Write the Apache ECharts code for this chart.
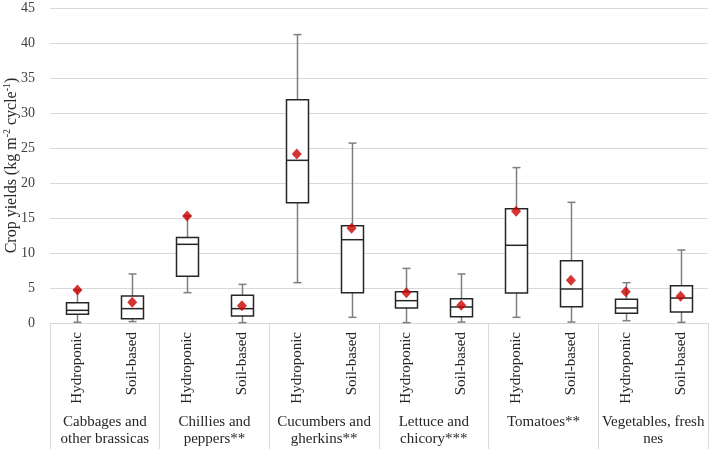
<!DOCTYPE html>
<html>
<head>
<meta charset="utf-8">
<script src="https://cdn.jsdelivr.net/npm/echarts@6/dist/echarts.min.js"></script>
<style>html,body{margin:0;padding:0;background:#fff;}#c{width:709px;height:449px;}</style>
</head>
<body>
<div id="c"></div>
<script>
var groups = ["Cabbages and\nother brassicas", "Chillies and\npeppers**", "Cucumbers and\ngherkins**", "Lettuce and\nchicory***", "Tomatoes**", "Vegetables, fresh\nnes"];
var methods = ["Hydroponic", "Soil-based"];
var mins  = [0.1, 0.2, 4.33, 0.05, 5.76, 0.81, 0.05, 0.14, 0.81, 0.14, 0.33, 0.1];
var q1s   = [1.24, 0.62, 6.67, 1.0, 17.19, 4.33, 2.14, 0.9, 4.29, 2.33, 1.38, 1.57];
var meds  = [1.81, 2.05, 11.24, 2.05, 23.24, 11.9, 3.19, 2.29, 11.1, 4.86, 2.14, 3.57];
var q3s   = [2.9, 3.86, 12.2, 3.95, 31.9, 13.9, 4.48, 3.48, 16.33, 8.9, 3.38, 5.33];
var maxs  = [4.7, 7.0, 15.3, 5.52, 41.2, 25.7, 7.8, 7.0, 22.2, 17.24, 5.76, 10.43];
var means = [4.71, 2.95, 15.29, 2.48, 24.14, 13.52, 4.33, 2.52, 15.95, 6.1, 4.48, 3.81];
var yTicks = {min: 0, max: 45, interval: 5};

var cats = [];
groups.forEach(function () { methods.forEach(function (m) { cats.push(m); }); });
var boxData = mins.map(function (v, i) { return [i, mins[i], q1s[i], meds[i], q3s[i], maxs[i]]; });
var meanData = means.map(function (v, i) { return [i, v]; });

var FONT = '"Liberation Serif", "Times New Roman", serif';
var chart = echarts.init(document.getElementById('c'), null, {renderer: 'canvas'});

function renderBox(params, api) {
  var x = api.value(0);
  var pMin = api.coord([x, api.value(1)]);
  var pQ1 = api.coord([x, api.value(2)]);
  var pMed = api.coord([x, api.value(3)]);
  var pQ3 = api.coord([x, api.value(4)]);
  var pMax = api.coord([x, api.value(5)]);
  var cx = Math.round(pMin[0]) + 0.5;
  var bw = 22, cw = 8;
  var wStyle = {stroke: '#7f7f7f', lineWidth: 1.5};
  var bStyle = {stroke: '#262626', lineWidth: 1.5, fill: '#ffffff'};
  return {
    type: 'group',
    children: [
      {type: 'line', shape: {x1: cx, y1: pMin[1], x2: cx, y2: pQ1[1]}, style: wStyle},
      {type: 'line', shape: {x1: cx, y1: pQ3[1], x2: cx, y2: pMax[1]}, style: wStyle},
      {type: 'line', shape: {x1: cx - cw / 2, y1: pMin[1], x2: cx + cw / 2, y2: pMin[1]}, style: wStyle},
      {type: 'line', shape: {x1: cx - cw / 2, y1: pMax[1], x2: cx + cw / 2, y2: pMax[1]}, style: wStyle},
      {type: 'rect', shape: {x: cx - bw / 2, y: pQ3[1], width: bw, height: pQ1[1] - pQ3[1]}, style: bStyle},
      {type: 'line', shape: {x1: cx - bw / 2, y1: pMed[1], x2: cx + bw / 2, y2: pMed[1]}, style: {stroke: '#262626', lineWidth: 1.5}}
    ]
  };
}

chart.setOption({
  animation: false,
  backgroundColor: '#ffffff',
  textStyle: {fontFamily: FONT},
  grid: {left: 50, right: 1, top: 8, bottom: 126, containLabel: false, outerBoundsMode: 'none'},
  xAxis: [
    {
      type: 'category', data: cats, position: 'bottom',
      axisLine: {show: true, lineStyle: {color: '#d9d9d9', width: 1}},
      axisTick: {show: false},
      axisLabel: {rotate: 90, interval: 0, margin: 9, fontSize: 15, color: '#262626', fontFamily: FONT}
    },
    {
      type: 'category', data: groups, position: 'bottom',
      axisLine: {show: false},
      axisTick: {show: true, length: 126, interval: 0, lineStyle: {color: '#d9d9d9', width: 1}},
      axisLabel: {interval: 0, margin: 91, fontSize: 15, lineHeight: 17, color: '#262626', fontFamily: FONT, align: 'center'}
    }
  ],
  yAxis: {
    type: 'value', min: yTicks.min, max: yTicks.max, interval: yTicks.interval,
    axisLine: {show: false}, axisTick: {show: false},
    splitLine: {lineStyle: {color: '#d9d9d9', width: 1}},
    axisLabel: {margin: 15, fontSize: 14, color: '#404040', fontFamily: FONT},
    name: '{a|Crop yields (kg m}{s|-2}{a| cycle}{s|-1}{a|)}',
    nameLocation: 'middle', nameRotate: 90, nameGap: 30, nameMoveOverlap: false,
    nameTextStyle: {
      fontFamily: FONT, color: '#262626',
      rich: {
        a: {fontSize: 16, fontFamily: FONT, color: '#262626', lineHeight: 18, verticalAlign: 'bottom'},
        s: {fontSize: 10, fontFamily: FONT, color: '#262626', lineHeight: 18, verticalAlign: 'top'}
      }
    }
  },
  series: [
    {type: 'custom', xAxisIndex: 0, renderItem: renderBox, data: boxData, encode: {x: 0, y: [1, 2, 3, 4, 5]}, z: 2},
    {type: 'scatter', xAxisIndex: 0, data: meanData, symbol: 'diamond', symbolSize: [10, 11], itemStyle: {color: '#cc0000'}, z: 3}
  ]
});
</script>
</body>
</html>
